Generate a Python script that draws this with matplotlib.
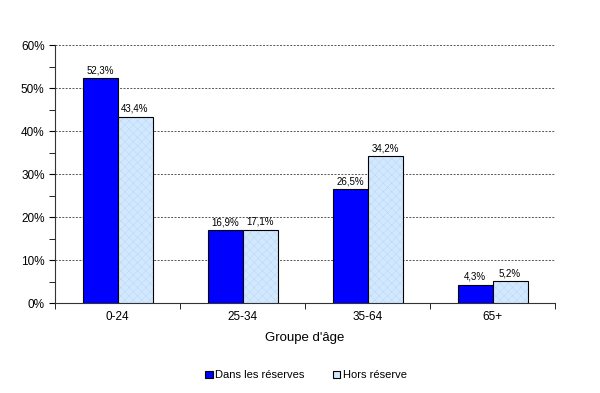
import numpy as np
import matplotlib.pyplot as plt
from matplotlib.ticker import MultipleLocator, FuncFormatter

plt.rcParams['font.family'] = ['Liberation Sans', 'DejaVu Sans']
plt.rcParams['hatch.linewidth'] = 0.3

groups = ['0-24', '25-34', '35-64', '65+']
dans = [52.3, 16.9, 26.5, 4.3]
hors = [43.4, 17.1, 34.2, 5.2]

fig = plt.figure(figsize=(6, 3.93), dpi=100)
ax = fig.add_axes([0.0917, 0.229, 0.8333, 0.656])

x = np.arange(len(groups))
w = 0.28
b1 = ax.bar(x - w / 2, dans, w, color='#0000ff', edgecolor='black', linewidth=0.8,
            label='Dans les réserves', zorder=3)
# light fill with faint hatch, then black outline on top
ax.bar(x + w / 2, hors, w, color='#d2e8ff', edgecolor='#b8d4f2', linewidth=0,
       hatch='xxxx', zorder=3)
b2 = ax.bar(x + w / 2, hors, w, facecolor='none', edgecolor='black', linewidth=0.8,
            zorder=4)
h2 = plt.Rectangle((0, 0), 1, 1, facecolor='#d2e8ff', edgecolor='black', linewidth=0.8)

for bars, vals in [(b1, dans), (b2, hors)]:
    for r, v in zip(bars, vals):
        ax.text(r.get_x() + r.get_width() / 2, v + 0.6, f'{v:.1f}%'.replace('.', ','),
                ha='center', va='bottom', fontsize=7)

ax.set_xlim(-0.5, 3.5)
ax.set_ylim(0, 60)
ax.yaxis.set_major_locator(MultipleLocator(10))
ax.yaxis.set_minor_locator(MultipleLocator(5))
ax.yaxis.set_major_formatter(FuncFormatter(lambda v, p: f'{v:.0f}%'))
ax.set_xticks(x)
ax.set_xticklabels(groups)
ax.set_xticks(np.arange(-0.5, 4, 1), minor=True)
ax.tick_params(axis='x', which='major', length=0, labelsize=8.5, pad=6)
ax.tick_params(axis='x', which='minor', length=4, direction='out')
ax.tick_params(axis='y', which='both', length=4, direction='out', labelsize=8.5)

ax.grid(axis='y', which='major', color='#555555', linestyle=(0, (2, 1.5)), linewidth=0.7, zorder=0)
for s in ['top', 'right']:
    ax.spines[s].set_visible(False)
ax.spines['left'].set_color('#333333')
ax.spines['bottom'].set_color('#333333')

ax.set_xlabel("Groupe d'âge", fontsize=9.5, labelpad=6)

fig.legend(handles=[b1, h2], labels=['Dans les réserves', 'Hors réserve'],
           loc='center', bbox_to_anchor=(0.51, 0.045), ncol=2,
           frameon=False, fontsize=8, handlelength=0.7, handleheight=0.7,
           handletextpad=0.2, columnspacing=2.5)

fig.savefig('out.png', dpi=100)
